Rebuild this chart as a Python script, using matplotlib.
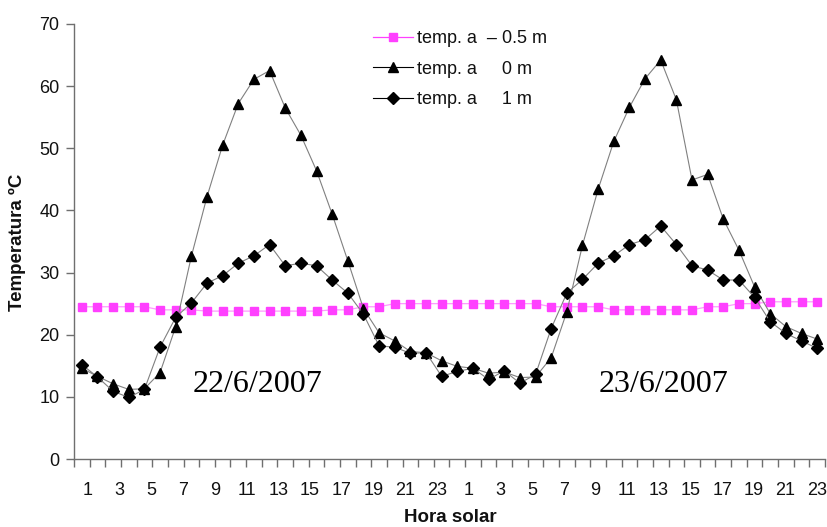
import numpy as np
import matplotlib
matplotlib.use("Agg")
import matplotlib.pyplot as plt

# Hourly temperatures over two days (22/6/2007 and 23/6/2007), hours 1..24 each
hour_labels = [str(h) for h in range(1, 25, 2)] * 2

temp_minus_05m = [24.5, 24.5, 24.5, 24.5, 24.5, 24.0, 24.0, 24.0, 23.8, 23.8, 23.8, 23.8,
                  23.8, 23.8, 23.8, 23.8, 24.0, 24.0, 24.5, 24.5, 25.0, 25.0, 25.0, 25.0,
                  25.0, 25.0, 25.0, 25.0, 25.0, 25.0, 24.5, 24.5, 24.5, 24.5, 24.0, 24.0,
                  24.0, 24.0, 24.0, 24.0, 24.5, 24.5, 25.0, 25.0, 25.3, 25.3, 25.3, 25.3]

temp_0m = [14.6, 13.3, 12.1, 11.2, 11.3, 13.9, 21.3, 32.6, 42.2, 50.5, 57.2, 61.1,
           62.5, 56.5, 52.1, 46.4, 39.4, 31.9, 24.2, 20.3, 19.0, 17.3, 17.1, 15.8,
           14.9, 14.6, 13.8, 14.0, 13.1, 13.2, 16.3, 23.7, 34.4, 43.4, 51.1, 56.6,
           61.2, 64.2, 57.8, 44.9, 45.8, 38.6, 33.6, 27.7, 23.4, 21.3, 20.2, 19.3]

temp_1m = [15.2, 13.2, 10.9, 9.9, 11.2, 18.0, 22.8, 25.1, 28.3, 29.5, 31.5, 32.7,
           34.5, 31.1, 31.5, 31.1, 28.8, 26.7, 23.3, 18.2, 18.0, 17.0, 17.1, 13.3,
           14.1, 14.6, 12.8, 14.2, 12.2, 13.6, 21.0, 26.7, 28.9, 31.5, 32.7, 34.5,
           35.3, 37.5, 34.5, 31.1, 30.4, 28.8, 28.8, 26.0, 22.1, 20.2, 19.0, 17.8]

series_names = ["temp. a  \u2013 0.5 m", "temp. a     0 m", "temp. a     1 m"]
day_labels = ["22/6/2007", "23/6/2007"]

plt.rcParams['font.family'] = ['Liberation Sans', 'DejaVu Sans']

fig = plt.figure(figsize=(8.28, 5.27), dpi=100)
ax = fig.add_axes([74 / 828, 1 - 459 / 527, 751 / 828, 435 / 527])

x = np.arange(len(temp_0m))

ax.plot(x, temp_minus_05m, color='#ff99ff', lw=0.9, marker='s', ms=5.8,
        mfc='#ff40ff', mec='#ff40ff', label=series_names[0], zorder=3)
ax.plot(x, temp_0m, color='#808080', lw=0.8, marker='^', ms=7.5,
        mfc='black', mec='black', label=series_names[1], zorder=4)
ax.plot(x, temp_1m, color='#808080', lw=0.8, marker='D', ms=6.2,
        mfc='black', mec='black', label=series_names[2], zorder=5)

ax.set_xlim(-0.5, len(x) - 0.5)
ax.set_ylim(0, 70)
ax.set_yticks(np.arange(0, 71, 10))

# category boundaries carry the tick marks; labels sit on every other hour
ax.set_xticks(np.arange(-0.5, len(x), 1.0))
ax.set_xticklabels([])
ax.set_xticks(np.linspace(0.4, 47.0, len(hour_labels)), minor=True)
ax.set_xticklabels(hour_labels, minor=True)

axis_color = '#6f6f6f'
for side in ['top', 'right']:
    ax.spines[side].set_visible(False)
for side in ['left', 'bottom']:
    ax.spines[side].set_color(axis_color)
    ax.spines[side].set_linewidth(1.0)

ax.tick_params(axis='x', which='major', length=5.5, width=1.0, color=axis_color,
               direction='out')
ax.tick_params(axis='x', which='minor', length=0, pad=16.5, labelsize=13,
               labelcolor='#111111')
ax.tick_params(axis='y', length=5.5, width=1.0, color=axis_color, direction='out',
               pad=5, labelsize=13, labelcolor='#111111')

ax.text(11.2, 10.8, day_labels[0], family='Liberation Serif', fontsize=23,
        ha='center', va='baseline', color='black')
ax.text(37.2, 10.8, day_labels[1], family='Liberation Serif', fontsize=23,
        ha='center', va='baseline', color='black')

leg = ax.legend(loc='upper left', bbox_to_anchor=(292 / 751, 1.0 + 1 / 435),
                frameon=False, fontsize=13, handlelength=2.2, handletextpad=0.25,
                labelspacing=0.75, borderaxespad=0.0)
for t in leg.get_texts():
    t.set_color('#111111')
leg_lines = leg.get_lines()
leg_lines[0].set_color('#ff40ff')
for ln in leg_lines[1:]:
    ln.set_color('black')

fig.text(17 / 828, 1 - 242 / 527, "Temperatura \u00baC", rotation=90, fontsize=13.5,
         fontweight='bold', ha='center', va='center', color='#111111')
fig.text(450 / 828, 0.001, "Hora solar", fontsize=13.5, fontweight='bold',
         ha='center', va='bottom', color='#111111')

fig.savefig("out.png", dpi=100)
